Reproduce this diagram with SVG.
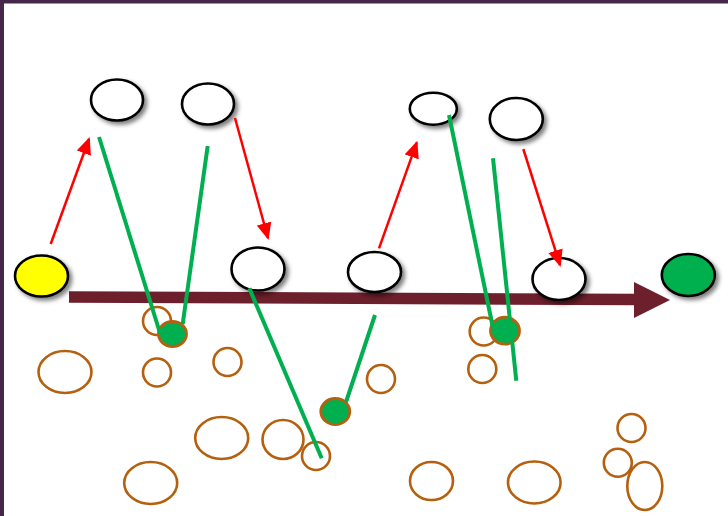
<svg xmlns="http://www.w3.org/2000/svg" width="728" height="516" viewBox="0 0 728 516">
<style>
.pl{fill:#fff;stroke:#000;stroke-width:2.6;filter:url(#sh)}
.br{fill:none;stroke:#b5600f;stroke-width:2.6}
.gd{fill:#00b050;stroke:#b5600f;stroke-width:2.8}
.gl{stroke:#00b050;stroke-width:4;fill:none}
.rl{stroke:#ff0000;stroke-width:2.5;fill:none;marker-end:url(#ah)}
</style>
<defs>
<filter id="sh" x="-30%" y="-30%" width="170%" height="170%">
<feDropShadow dx="3" dy="3" stdDeviation="2" flood-color="#000" flood-opacity="0.5"/>
</filter>
<marker id="ah" markerUnits="userSpaceOnUse" markerWidth="17" markerHeight="15" refX="15" refY="7.5" orient="auto">
<path d="M0,0 L17,7.5 L0,15 z" fill="#ff0000"/>
</marker>
</defs>
<rect x="0" y="0" width="728" height="516" fill="#fff"/>
<rect x="2" y="1.5" width="740" height="530" fill="none" stroke="#43284a" stroke-width="4"/>

<g id="trail">
<ellipse class="br" cx="157" cy="321" rx="14" ry="14"/>
<ellipse class="br" cx="65" cy="372" rx="26.5" ry="21"/>
<ellipse class="br" cx="157" cy="372.5" rx="14" ry="14"/>
<ellipse class="br" cx="227.5" cy="362" rx="14" ry="14"/>
<ellipse class="br" cx="221.7" cy="438" rx="26.5" ry="21"/>
<ellipse class="br" cx="283" cy="439.5" rx="20.5" ry="19.5"/>
<ellipse class="br" cx="316" cy="456" rx="14" ry="14"/>
<ellipse class="br" cx="150.7" cy="483" rx="26.5" ry="21"/>
<ellipse class="br" cx="381" cy="379" rx="14" ry="14"/>
<ellipse class="br" cx="483.7" cy="331.5" rx="14" ry="14"/>
<ellipse class="br" cx="482.3" cy="369" rx="14" ry="14"/>
<ellipse class="br" cx="431.5" cy="481" rx="21.5" ry="19"/>
<ellipse class="br" cx="534.3" cy="482.5" rx="26.3" ry="21"/>
<ellipse class="br" cx="631.5" cy="428" rx="14" ry="14"/>
<ellipse class="br" cx="617.8" cy="462.8" rx="14" ry="14"/>
<ellipse class="br" cx="644.8" cy="486" rx="17.5" ry="24"/>
</g>

<g id="timeline">
<path d="M69,297 L636,299.5" stroke="#6d1f2b" stroke-width="11.5" fill="none"/>
<polygon points="634,282 670,300 634,318" fill="#6d1f2b"/>
</g>

<g id="start"><ellipse cx="41.5" cy="276" rx="26.5" ry="20.5" fill="#ffff00" stroke="#000" stroke-width="2.6" filter="url(#sh)"/></g>
<g id="end"><ellipse cx="688.3" cy="275" rx="26.5" ry="21" fill="#00b050" stroke="#000" stroke-width="2.6" filter="url(#sh)"/></g>
<g id="n1"><ellipse class="pl" cx="117" cy="100" rx="26" ry="20.5"/></g>
<g id="n2"><ellipse class="pl" cx="208" cy="104" rx="26" ry="20.5"/></g>
<g id="n3"><ellipse class="pl" cx="258" cy="269" rx="26.5" ry="21.5"/></g>
<g id="n4"><ellipse class="pl" cx="374.5" cy="272" rx="26.5" ry="20"/></g>
<g id="n5"><ellipse class="pl" cx="433.3" cy="108.7" rx="23.5" ry="16"/></g>
<g id="n6"><ellipse class="pl" cx="516.3" cy="119" rx="26.5" ry="21"/></g>
<g id="n7"><ellipse class="pl" cx="559" cy="279" rx="26.5" ry="21"/></g>

<g id="d1"><ellipse class="gd" cx="172.5" cy="334" rx="14" ry="12.5"/></g>
<g id="d2"><ellipse class="gd" cx="335.3" cy="411.5" rx="14.5" ry="13"/></g>
<g id="d3"><ellipse class="gd" cx="505" cy="330.7" rx="14.5" ry="13.5"/></g>

<g id="connectors">
<line class="rl" x1="50.7" y1="244" x2="89" y2="139"/>
<line class="rl" x1="235" y1="118" x2="268" y2="238"/>
<line class="rl" x1="379" y1="248.3" x2="416.7" y2="142.7"/>
<line class="rl" x1="523.3" y1="149" x2="560" y2="265"/>
<line class="gl" x1="99" y1="137" x2="160" y2="333"/>
<line class="gl" x1="207.7" y1="146" x2="182.7" y2="324"/>
<line class="gl" x1="249.3" y1="288.3" x2="321.7" y2="458.3"/>
<line class="gl" x1="346" y1="402" x2="375" y2="315"/>
<line class="gl" x1="449" y1="115" x2="493" y2="328"/>
<line class="gl" x1="493" y1="158.3" x2="516.3" y2="380.7"/>
</g>
</svg>
